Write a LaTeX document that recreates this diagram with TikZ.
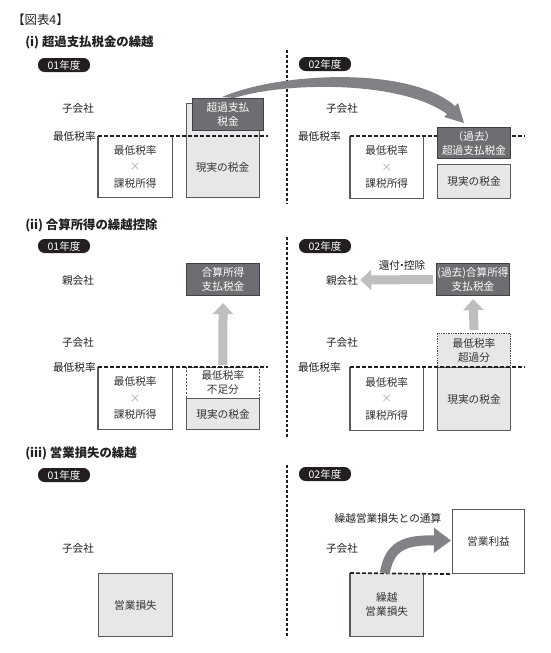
\documentclass[tikz,border=0pt]{standalone}
\usepackage{fontspec}
\setmainfont{Noto Sans CJK JP}
\usetikzlibrary{arrows.meta}
\definecolor{ink}{HTML}{231F20}
\definecolor{boxtext}{HTML}{333333}
\definecolor{lightfill}{HTML}{E6E7E8}
\definecolor{darkfill}{HTML}{6D6E71}
\definecolor{darkline}{HTML}{414042}
\definecolor{boxline}{HTML}{58595B}
\definecolor{midarrow}{HTML}{808285}
\definecolor{lightarrow}{HTML}{BCBEC0}
\definecolor{timesgray}{HTML}{A7A9AC}
\tikzset{
  sz/.style 2 args={minimum width=#1*0.75pt, minimum height=#2*0.75pt},
  lbl/.style={font=\fontsize{8}{9.6}\selectfont, text=ink, inner sep=0pt},
  ttl/.style={anchor=west, font=\fontsize{9.3}{11}\selectfont\bfseries, text=ink, inner sep=0pt},
  badge/.style={fill=ink, text=white, rounded corners=5pt, inner sep=0pt, sz={52}{14},
    font=\fontsize{7.9}{9}\selectfont},
  boxbase/.style={anchor=north west, inner sep=0pt, align=center,
    font=\fontsize{8}{10.5}\selectfont},
  threeline/.style={font=\fontsize{8}{12.4}\selectfont},
  lightbox/.style={boxbase, fill=lightfill, draw=boxline, line width=0.8pt, text=boxtext},
  darkbox/.style={boxbase, fill=darkfill, draw=darkline, line width=0.8pt, text=white},
  whitebox/.style={boxbase, fill=white, draw=boxline, line width=0.8pt, text=boxtext},
  openbox/.style={boxbase, fill=white, text=boxtext},
  boxside/.style={draw=boxline, line width=0.8pt},
  dashedbox/.style={boxbase, fill=white, draw=boxline, line width=0.6pt,
    dash pattern=on 1.5pt off 1.2pt, text=boxtext},
  dottedbox/.style={boxbase, fill=lightfill, draw=darkline, line width=0.8pt,
    dash pattern=on 1pt off 0.8pt, text=boxtext},
  minline/.style={draw=ink, line width=1.2pt, dash pattern=on 3pt off 1.5pt},
  sepline/.style={draw=ink, line width=1.6pt, dash pattern=on 2.2pt off 1.5pt},
  fatarrow/.style={draw=lightarrow, line width=6.75pt, -{Triangle[width=15pt,length=8.25pt]}},
  curvearrow/.style={draw=midarrow, line width=7.5pt, -{Triangle[width=18pt,length=12.75pt]}},
}
\begin{document}
\begin{tikzpicture}[x=0.75pt,y=-0.75pt]
\useasboundingbox[fill=white] (0,0) rectangle (550,653);

% headings
\node[ttl, font=\fontsize{9.3}{11}\selectfont] (fig) at (12,20) {【図表4】};
\node[ttl] (t1) at (25,42) {(i) 超過支払税金の繰越};
\node[ttl] (t2) at (25,225) {(ii) 合算所得の繰越控除};
\node[ttl] (t3) at (25,453) {(iii) 営業損失の繰越};

% badges
\node[badge] (y1a) at (64,65) {01年度};
\node[badge] (y1b) at (325,64) {02年度};
\node[badge] (y2a) at (64,246) {01年度};
\node[badge] (y2b) at (325,246) {02年度};
\node[badge] (y3a) at (64,475) {01年度};
\node[badge] (y3b) at (325,474) {02年度};

% separators
\coordinate (s1t) at (287,50);  \coordinate (s1b) at (287,203);
\coordinate (s2t) at (287,237); \coordinate (s2b) at (287,437);
\coordinate (s3t) at (287,465); \coordinate (s3b) at (287,637);
\draw[sepline] (s1t) -- (s1b);
\draw[sepline] (s2t) -- (s2b);
\draw[sepline] (s3t) -- (s3b);

% ===== (i) left =====
\node[lbl] (ko1a) at (78,108) {子会社};
\node[lbl, anchor=east] (mr1a) at (96,136) {最低税率};
\node[lightbox, sz={73}{94}] (a1) at (186,103) {};
\node[lbl, text=boxtext] (a1t) at (222.5,167) {現実の税金};
\node[openbox, threeline, sz={74}{61}] (b1) at (98,136) {最低税率\\{\color{timesgray}×}\\課税所得};
\draw[boxside] (b1.north west) -- (b1.south west) -- (b1.south east) -- (b1.north east);
\coordinate (l1e) at (268,136);
\draw[minline] (b1.north west) -- (l1e);
\node[darkbox, sz={71}{32}] (c1) at (192,98) {超過支払\\税金};

% ===== (i) right =====
\node[lbl] (ko1b) at (342,108) {子会社};
\node[lbl, anchor=east] (mr1b) at (341,136) {最低税率};
\coordinate (l2e) at (525,136);
\node[openbox, threeline, sz={73}{62}] (b2) at (350,136) {最低税率\\{\color{timesgray}×}\\課税所得};
\draw[boxside] (b2.north west) -- (b2.south west) -- (b2.south east) -- (b2.north east);
\draw[minline] (b2.north west) -- (l2e);
\node[darkbox, sz={73}{31}] (c2) at (437,127) {（過去）\\超過支払税金};
\node[lightbox, sz={73}{34}] (d2) at (437,164) {現実の税金};

% big carry-over arrow
\coordinate (tailA) at (222,97);
\coordinate (tailB) at (234,98);
\coordinate (tip1) at (464,123);
\fill[midarrow] (tailA) .. controls (280,72) and (410,66) .. (455,106)
  -- (458,103) -- (tip1) -- (444,117) -- (447,114)
  .. controls (400,80) and (285,82) .. (tailB) -- cycle;

% ===== (ii) left =====
\node[lbl] (oya2a) at (78,280) {親会社};
\node[lbl] (ko2a) at (78,342) {子会社};
\node[lbl, anchor=east] (mr2a) at (96,367) {最低税率};
\node[darkbox, sz={73}{32}] (e1) at (186,263) {合算所得\\支払税金};
\node[openbox, threeline, sz={74}{62}] (b3) at (98,367) {最低税率\\{\color{timesgray}×}\\課税所得};
\draw[boxside] (b3.north west) -- (b3.south west) -- (b3.south east) -- (b3.north east);
\node[dashedbox, sz={73}{31}] (f1) at (186,367) {最低税率\\不足分};
\node[lightbox, sz={73}{31}] (g1) at (186,398) {現実の税金};
\coordinate (l3e) at (268,367);
\draw[minline] (b3.north west) -- (l3e);
\draw[fatarrow] ([yshift=1.5pt]f1.north) -- ([yshift=-5.25pt]e1.south);

% ===== (ii) right =====
\node[lbl] (kan) at (402,265) {還付\hspace{-2.6pt}・\hspace{-2.6pt}控除};
\node[lbl] (oya2b) at (342,280) {親会社};
\node[lbl] (ko2b) at (342,342) {子会社};
\node[lbl, anchor=east] (mr2b) at (341,367) {最低税率};
\node[darkbox, sz={73}{32}] (e2) at (436,263) {(過去)合算所得\\支払税金};
\node[dottedbox, sz={73}{34}] (f2) at (437,333) {最低税率\\超過分};
\node[lightbox, sz={73}{63}] (g2) at (437,367) {現実の税金};
\node[openbox, threeline, sz={73}{63}] (b4) at (350,367) {最低税率\\{\color{timesgray}×}\\課税所得};
\draw[boxside] (b4.north west) -- (b4.south west) -- (b4.south east) -- (b4.north east);
\coordinate (l4e) at (525,367);
\draw[minline] (b4.north west) -- (l4e);
\draw[fatarrow] ([yshift=2.25pt]f2.north) -- ([yshift=-2.25pt]e2.south);
\draw[fatarrow] ([xshift=-2.25pt]e2.west) -- ([xshift=1.5pt]oya2b.east);

% ===== (iii) left =====
\node[lbl] (ko3a) at (78,548) {子会社};
\node[lightbox, sz={74}{63}] (h1) at (98,573) {営業損失};

% ===== (iii) right =====
\node[lbl] (tsu) at (388,518) {繰越営業損失との通算};
\node[lbl] (ko3b) at (342,548) {子会社};
\node[whitebox, sz={72}{64}] (i2) at (452,509) {営業利益};
\node[boxbase, fill=lightfill, text=boxtext, sz={73}{63}] (h2) at (350,573) {繰越\\営業損失};
\draw[boxside] (h2.north west) -- (h2.south west) -- (h2.south east) -- (h2.north east);
\draw[minline] (h2.north west) -- (i2.south west);
\draw[curvearrow] ([xshift=-1.5pt]h2.north) .. controls (390,545) and (405,540) .. ([xshift=-0.75pt,yshift=0.75pt]i2.west);
\end{tikzpicture}
\end{document}
